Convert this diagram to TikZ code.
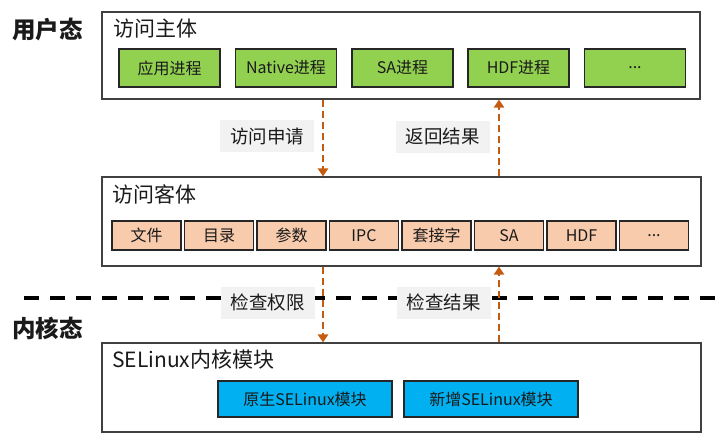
\documentclass[tikz,border=0pt]{standalone}
\usepackage{fontspec}
\setmainfont{Noto Sans CJK SC}
\usetikzlibrary{arrows.meta}
\definecolor{gfill}{HTML}{92D050}
\definecolor{ofill}{HTML}{F8CBAD}
\definecolor{bfill}{HTML}{00B0F0}
\definecolor{arr}{HTML}{C55A11}
\definecolor{lbg}{HTML}{F2F2F2}
\definecolor{bord}{HTML}{404040}
\definecolor{txt}{HTML}{1A1A1A}
\begin{document}
\begin{tikzpicture}[x=1pt,y=-1pt,
  outer/.style={draw=bord,line width=1.1pt,fill=white,inner sep=0pt},
  inbox/.style={draw=black!85,line width=1.3pt,inner sep=0pt,text=txt,font=\fontsize{16}{17}\selectfont},
  gbox/.style={inbox,fill=gfill,minimum width=101pt,minimum height=38pt},
  obox/.style={inbox,fill=ofill,minimum width=69pt,minimum height=29pt},
  bbox/.style={inbox,fill=bfill,minimum width=174pt,minimum height=36pt},
  title/.style={anchor=west,inner sep=0pt,text=txt,font=\fontsize{21}{23}\selectfont},
  state/.style={anchor=west,inner sep=0pt,text=txt,font=\bfseries\fontsize{23.5}{25}\selectfont},
  lbl/.style={fill=lbg,inner sep=0pt,minimum width=94pt,minimum height=32pt,text=txt,font=\fontsize{18.5}{20}\selectfont},
  flow/.style={draw=arr,line width=2.8pt,dash pattern=on 7pt off 4pt,-{Triangle[length=8pt,width=10pt]}}
]
\useasboundingbox (0,0) rectangle (718,445);
% outer boxes
\node[outer,minimum width=598pt,minimum height=87pt] (subj) at (401,55.5) {};
\node[outer,minimum width=599pt,minimum height=89pt] (obj) at (401.5,221.5) {};
\node[outer,minimum width=599pt,minimum height=89pt] (kern) at (401.5,387.5) {};
% state labels
\node[state] (us) at (12,30) {用户态};
\node[state] (ks) at (12,328) {内核态};
% titles
\node[title] (t1) at (113,29) {访问主体};
\node[title] (t2) at (112,194) {访问客体};
\node[title] (t3) at (112,359) {SELinux内核模块};
% green
\node[gbox] (g1) at (169.5,68) {应用进程};
\node[gbox] (g2) at (286,68) {Native进程};
\node[gbox] (g3) at (402.5,68) {SA进程};
\node[gbox] (g4) at (518.5,68) {HDF进程};
\node[gbox] (g5) at (635,68) {...};
% orange
\node[obox] (o1) at (146.5,235.5) {文件};
\node[obox] (o2) at (219,235.5) {目录};
\node[obox] (o3) at (291.5,235.5) {参数};
\node[obox] (o4) at (364,235.5) {IPC};
\node[obox] (o5) at (436.5,235.5) {套接字};
\node[obox] (o6) at (509,235.5) {SA};
\node[obox] (o7) at (581.5,235.5) {HDF};
\node[obox] (o8) at (654,235.5) {...};
% blue
\node[bbox] (b1) at (305,399) {原生SELinux模块};
\node[bbox] (b2) at (491,399) {新增SELinux模块};
% separator
\coordinate (sepL) at (24,298);
\coordinate (sepR) at (718,298);
\draw[line width=4pt,dash pattern=on 15pt off 11pt] (sepL) -- (sepR);
% labels
\node[lbl] (l1) at (267,136) {访问申请};
\node[lbl] (l2) at (442.5,136.5) {返回结果};
\node[lbl] (l3) at (267.5,302.5) {检查权限};
\node[lbl] (l4) at (443.5,302.5) {检查结果};
% arrows
\coordinate (ax1) at (323,0);
\coordinate (ax2) at (499,0);
\draw[flow] (subj.south -| ax1) -- (obj.north -| ax1);
\draw[flow] (obj.north -| ax2) -- (subj.south -| ax2);
\draw[flow] (obj.south -| ax1) -- (kern.north -| ax1);
\draw[flow] (kern.north -| ax2) -- (obj.south -| ax2);
\end{tikzpicture}
\end{document}
